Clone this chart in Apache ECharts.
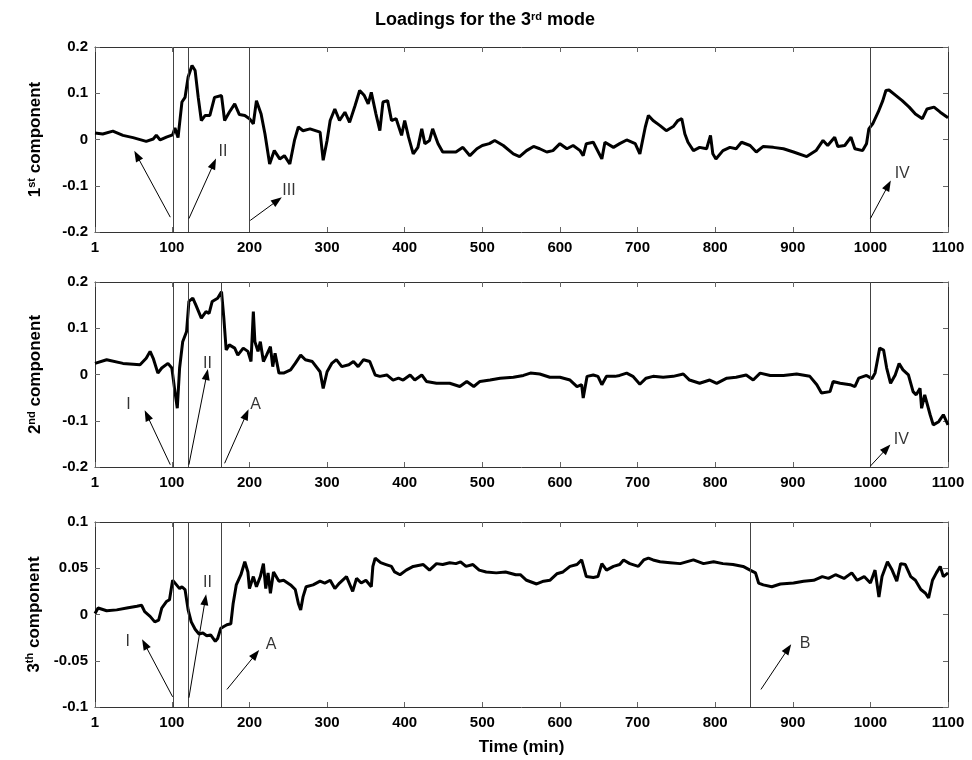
<!DOCTYPE html>
<html>
<head>
<meta charset="utf-8">
<script src="https://cdn.jsdelivr.net/npm/echarts@6/dist/echarts.min.js"></script>
<style>
html, body { margin: 0; padding: 0; background: #fff; }
#chart { width: 972px; height: 760px; }
</style>
</head>
<body>
<div id="chart"></div>
<script>
// x ticks (minutes)
const timeTicks = [1, 100, 200, 300, 400, 500, 600, 700, 800, 900, 1000, 1100];

// 1st component
const t1 = [1, 11, 24, 37, 50, 67, 76, 80, 85, 93, 101, 104, 108, 113, 117, 121, 126, 130, 134, 138, 143, 149, 155, 164, 168, 174, 181, 187, 194, 200, 205, 209, 215, 220, 226, 232, 239, 245, 252, 258, 263, 269, 278, 291, 295, 300, 304, 310, 316, 323, 329, 336, 342, 348, 353, 357, 363, 368, 372, 378, 383, 389, 396, 400, 405, 411, 417, 422, 426, 432, 436, 443, 449, 466, 475, 484, 493, 500, 509, 516, 527, 540, 548, 557, 566, 574, 583, 591, 600, 609, 617, 626, 630, 634, 643, 654, 658, 669, 677, 686, 697, 703, 710, 714, 720, 729, 737, 746, 752, 757, 761, 765, 772, 780, 789, 794, 797, 801, 810, 819, 827, 834, 845, 853, 862, 875, 888, 901, 918, 930, 939, 945, 954, 958, 967, 975, 980, 990, 995, 998, 1003, 1010, 1016, 1020, 1024, 1033, 1041, 1050, 1058, 1067, 1073, 1082, 1090, 1100];
const v1 = [0.014, 0.012, 0.018, 0.009, 0.004, -0.004, 0.001, 0.009, -0.001, 0.005, 0.010, 0.025, 0.004, 0.081, 0.091, 0.135, 0.160, 0.149, 0.091, 0.041, 0.052, 0.052, 0.091, 0.095, 0.041, 0.059, 0.077, 0.054, 0.052, 0.045, 0.034, 0.084, 0.055, 0.012, -0.053, -0.024, -0.042, -0.035, -0.053, -0.002, 0.027, 0.019, 0.023, 0.016, -0.045, -0.002, 0.041, 0.066, 0.041, 0.059, 0.037, 0.073, 0.106, 0.095, 0.077, 0.102, 0.055, 0.019, 0.081, 0.084, 0.041, 0.045, 0.009, 0.041, 0.005, -0.031, -0.017, 0.023, -0.009, -0.002, 0.023, -0.009, -0.027, -0.027, -0.017, -0.035, -0.020, -0.013, -0.009, -0.002, -0.013, -0.031, -0.037, -0.024, -0.015, -0.020, -0.027, -0.024, -0.009, -0.020, -0.013, -0.024, -0.035, -0.009, -0.006, -0.042, -0.006, -0.017, -0.009, -0.001, -0.009, -0.031, 0.027, 0.052, 0.041, 0.030, 0.019, 0.028, 0.041, 0.045, 0.012, -0.006, -0.024, -0.017, -0.020, 0.009, -0.031, -0.042, -0.024, -0.017, -0.020, -0.006, -0.013, -0.027, -0.015, -0.017, -0.020, -0.027, -0.037, -0.024, -0.002, -0.013, 0.005, -0.015, -0.013, 0.005, -0.020, -0.024, -0.009, 0.023, 0.034, 0.059, 0.084, 0.106, 0.107, 0.095, 0.084, 0.070, 0.055, 0.045, 0.066, 0.070, 0.059, 0.047];

// 2nd component
const t2 = [1, 16, 37, 59, 67, 72, 76, 82, 87, 95, 100, 104, 107, 110, 114, 119, 122, 127, 131, 138, 144, 148, 152, 159, 164, 167, 170, 174, 181, 185, 192, 198, 202, 205, 207, 211, 214, 218, 222, 227, 230, 233, 238, 244, 253, 259, 266, 272, 281, 291, 295, 300, 306, 312, 319, 328, 334, 340, 347, 355, 362, 368, 377, 385, 392, 398, 407, 413, 422, 428, 441, 458, 471, 480, 489, 497, 510, 523, 540, 553, 562, 574, 587, 600, 613, 622, 628, 630, 635, 643, 649, 654, 660, 671, 677, 686, 694, 703, 711, 720, 733, 746, 759, 767, 780, 793, 802, 815, 827, 840, 849, 858, 871, 888, 905, 922, 931, 937, 948, 952, 961, 974, 980, 985, 995, 1002, 1006, 1012, 1017, 1021, 1026, 1032, 1037, 1042, 1049, 1055, 1059, 1064, 1066, 1070, 1077, 1081, 1088, 1094, 1100];
const v2 = [0.024, 0.032, 0.024, 0.021, 0.035, 0.050, 0.035, 0.003, 0.014, 0.024, 0.014, -0.037, -0.073, 0.014, 0.071, 0.093, 0.158, 0.165, 0.150, 0.122, 0.136, 0.132, 0.158, 0.165, 0.179, 0.122, 0.053, 0.064, 0.057, 0.042, 0.057, 0.050, 0.028, 0.136, 0.071, 0.050, 0.071, 0.028, 0.042, 0.060, 0.017, 0.046, 0.003, 0.003, 0.010, 0.024, 0.042, 0.032, 0.028, 0.006, -0.030, 0.006, 0.024, 0.032, 0.017, 0.021, 0.028, 0.017, 0.032, 0.028, -0.001, -0.004, -0.001, -0.012, -0.008, -0.012, -0.001, -0.012, -0.001, -0.015, -0.019, -0.019, -0.026, -0.015, -0.026, -0.015, -0.012, -0.008, -0.006, -0.002, 0.003, 0.001, -0.006, -0.006, -0.012, -0.026, -0.022, -0.051, -0.004, -0.001, -0.004, -0.022, -0.004, -0.004, -0.002, 0.003, -0.004, -0.021, -0.008, -0.004, -0.006, -0.004, 0.001, -0.012, -0.019, -0.012, -0.019, -0.008, -0.006, -0.001, -0.012, 0.003, -0.002, -0.002, 0.001, -0.004, -0.022, -0.040, -0.037, -0.015, -0.019, -0.022, -0.026, -0.008, -0.002, -0.009, 0.003, 0.057, 0.053, 0.014, -0.019, -0.001, 0.024, 0.010, -0.001, -0.037, -0.044, -0.030, -0.073, -0.044, -0.087, -0.109, -0.102, -0.087, -0.109];

// 3rd component
const t3 = [1, 5, 16, 29, 42, 55, 61, 65, 72, 78, 83, 87, 93, 97, 101, 106, 110, 113, 117, 121, 125, 130, 135, 140, 145, 150, 156, 159, 163, 167, 171, 176, 179, 183, 189, 194, 198, 200, 205, 209, 214, 218, 221, 224, 227, 231, 238, 244, 253, 259, 263, 266, 269, 273, 282, 291, 297, 304, 310, 316, 325, 333, 338, 344, 350, 357, 359, 362, 369, 376, 383, 387, 394, 402, 411, 424, 432, 441, 449, 458, 466, 472, 479, 488, 496, 505, 518, 530, 543, 549, 557, 570, 579, 587, 596, 604, 613, 622, 628, 634, 643, 649, 654, 660, 669, 677, 682, 690, 701, 708, 714, 720, 729, 742, 755, 772, 785, 798, 810, 823, 836, 845, 852, 856, 862, 873, 884, 901, 914, 927, 938, 946, 955, 966, 976, 983, 992, 1000, 1006, 1011, 1015, 1022, 1028, 1034, 1039, 1045, 1052, 1058, 1065, 1071, 1075, 1080, 1085, 1090, 1094, 1100];
const v3 = [0.001, 0.007, 0.004, 0.005, 0.007, 0.009, 0.010, 0.003, -0.002, -0.008, -0.006, 0.007, 0.014, 0.016, 0.037, 0.032, 0.028, 0.030, 0.027, 0.005, -0.008, -0.016, -0.021, -0.020, -0.023, -0.022, -0.029, -0.026, -0.015, -0.013, -0.011, -0.010, 0.012, 0.032, 0.043, 0.057, 0.046, 0.028, 0.041, 0.030, 0.041, 0.055, 0.028, 0.045, 0.023, 0.046, 0.036, 0.037, 0.032, 0.027, 0.012, 0.005, 0.019, 0.030, 0.032, 0.036, 0.034, 0.037, 0.028, 0.034, 0.041, 0.025, 0.039, 0.034, 0.037, 0.030, 0.052, 0.061, 0.056, 0.054, 0.052, 0.046, 0.043, 0.048, 0.052, 0.054, 0.048, 0.055, 0.054, 0.056, 0.055, 0.057, 0.052, 0.054, 0.048, 0.046, 0.045, 0.046, 0.043, 0.043, 0.037, 0.033, 0.036, 0.037, 0.044, 0.046, 0.052, 0.054, 0.059, 0.041, 0.040, 0.041, 0.055, 0.048, 0.052, 0.054, 0.059, 0.055, 0.052, 0.059, 0.061, 0.059, 0.057, 0.056, 0.055, 0.059, 0.055, 0.057, 0.055, 0.054, 0.052, 0.048, 0.045, 0.034, 0.032, 0.030, 0.033, 0.034, 0.036, 0.037, 0.041, 0.039, 0.043, 0.039, 0.045, 0.037, 0.041, 0.034, 0.048, 0.019, 0.041, 0.057, 0.048, 0.036, 0.055, 0.054, 0.041, 0.037, 0.027, 0.023, 0.018, 0.037, 0.045, 0.052, 0.041, 0.045];

// event lines (minutes)
const events1 = [102, 121, 200, 1000];
const events2 = [102, 121, 164, 1000];
const events3 = [102, 121, 164, 845];

// arrows: [fromTime, fromValue, toTime, toValue]
const arrows1 = [[98, -0.168, 55, -0.035], [122, -0.171, 154, -0.052], [201, -0.175, 236, -0.132], [1000, -0.171, 1023, -0.099]];
const arrows2 = [[98, -0.195, 68, -0.088], [122, -0.195, 145, 0.0], [168, -0.192, 196, -0.086], [1000, -0.198, 1021, -0.16]];
const arrows3 = [[101, -0.089, 65, -0.032], [122, -0.09, 143, 0.016], [171, -0.081, 208, -0.043], [859, -0.081, 894, -0.037]];

// annotation labels: [text, time, value]
const notes1 = [['II', 166, -0.027], ['III', 251, -0.11], ['IV', 1041, -0.073]];
const notes2 = [['I', 44, -0.066], ['II', 146, 0.024], ['A', 208, -0.066], ['IV', 1040, -0.14]];
const notes3 = [['I', 43, -0.029], ['II', 146, 0.034], ['A', 228, -0.032], ['B', 916, -0.031]];

const yNames = ['{a|1}{s|st}{a| component}', '{a|2}{s|nd}{a| component}', '{a|3}{s|th}{a| component}'];
const yRanges = [[-0.2, 0.2, 0.1], [-0.2, 0.2, 0.1], [-0.1, 0.1, 0.05]];
const gridTops = [47, 282, 522];

const panels = [
  { t: t1, v: v1, events: events1, arrows: arrows1, notes: notes1 },
  { t: t2, v: v2, events: events2, arrows: arrows2, notes: notes2 },
  { t: t3, v: v3, events: events3, arrows: arrows3, notes: notes3 }
];

const font = 'Liberation Sans, Arial, sans-serif';

const chart = echarts.init(document.getElementById('chart'));

const grid = [], xAxis = [], yAxis = [], series = [];

panels.forEach((p, i) => {
  grid.push({ left: 95, width: 853, top: gridTops[i], height: 185 });

  const tickStyle = { inside: true, length: 5, customValues: timeTicks, lineStyle: { color: '#666' } };
  xAxis.push({
    gridIndex: i, type: 'value', min: 1, max: 1100,
    axisLine: { onZero: false, lineStyle: { color: '#333', width: 1 } },
    axisTick: tickStyle,
    axisLabel: {
      customValues: timeTicks, formatter: v => String(v),
      color: '#000', fontWeight: 'bold', fontSize: 15, fontFamily: font, margin: 8
    },
    splitLine: { show: false },
    name: i === 2 ? 'Time (min)' : '', nameLocation: 'middle', nameGap: 32,
    nameTextStyle: { color: '#000', fontWeight: 'bold', fontSize: 17, fontFamily: font }
  });
  xAxis.push({
    gridIndex: i, type: 'value', min: 1, max: 1100, position: 'top',
    axisLine: { onZero: false, lineStyle: { color: '#333', width: 1 } },
    axisTick: tickStyle, axisLabel: { show: false }, splitLine: { show: false }
  });

  const [lo, hi, step] = yRanges[i];
  const yTick = { inside: true, length: 5, lineStyle: { color: '#666' } };
  yAxis.push({
    gridIndex: i, type: 'value', min: lo, max: hi, interval: step,
    axisLine: { show: true, lineStyle: { color: '#333', width: 1 } },
    axisTick: yTick,
    axisLabel: { color: '#000', fontWeight: 'bold', fontSize: 15, fontFamily: font, margin: 7 },
    splitLine: { show: false },
    name: yNames[i], nameLocation: 'middle', nameRotate: 90, nameGap: 50,
    nameTextStyle: {
      color: '#000', fontFamily: font,
      rich: {
        a: { fontSize: 17, fontWeight: 'bold', fontFamily: font, color: '#000' },
        s: { fontSize: 11, fontWeight: 'bold', fontFamily: font, color: '#000', verticalAlign: 'top', padding: [0, 0, 8, 0] }
      }
    }
  });
  yAxis.push({
    gridIndex: i, type: 'value', min: lo, max: hi, interval: step, position: 'right',
    axisLine: { show: true, lineStyle: { color: '#333', width: 1 } },
    axisTick: yTick, axisLabel: { show: false }, splitLine: { show: false }
  });

  series.push({
    type: 'line', xAxisIndex: 2 * i, yAxisIndex: 2 * i,
    data: p.t.map((t, k) => [t, p.v[k]]),
    showSymbol: false, symbol: 'none', animation: false,
    lineStyle: { color: '#000', width: 3 },
    markLine: {
      silent: true, symbol: 'none', animation: false,
      lineStyle: { color: '#444', width: 1, type: 'solid' },
      label: { show: false },
      data: p.events.map(e => ({ xAxis: e }))
    }
  });

  series.push({
    type: 'line', xAxisIndex: 2 * i, yAxisIndex: 2 * i, data: [],
    animation: false,
    markLine: {
      silent: true, symbol: ['none', 'triangle'], symbolSize: [8, 11], animation: false,
      lineStyle: { color: '#000', width: 1, type: 'solid' },
      label: { show: false },
      data: p.arrows.map(a => [{ coord: [a[0], a[1]] }, { coord: [a[2], a[3]] }])
    }
  });

  series.push({
    type: 'scatter', xAxisIndex: 2 * i, yAxisIndex: 2 * i, symbolSize: 0,
    animation: false, silent: true,
    data: p.notes.map(n => ({ name: n[0], value: [n[1], n[2]] })),
    label: { show: true, position: 'inside', formatter: '{b}', color: '#000', fontSize: 16, fontFamily: font }
  });
});

chart.setOption({
  backgroundColor: '#fff',
  animation: false,
  title: {
    text: '{a|Loadings for the 3}{s|rd}{a| mode}',
    left: 370, top: 6,
    textStyle: {
      rich: {
        a: { fontSize: 18, fontWeight: 'bold', fontFamily: font, color: '#000' },
        s: { fontSize: 11, fontWeight: 'bold', fontFamily: font, color: '#000', verticalAlign: 'top', padding: [0, 0, 8, 0] }
      }
    }
  },
  grid, xAxis, yAxis, series
});
</script>
</body>
</html>
